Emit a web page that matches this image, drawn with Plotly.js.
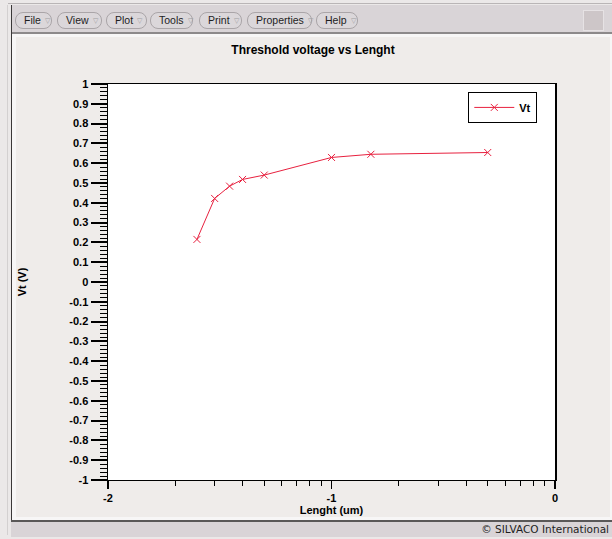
<!DOCTYPE html>
<html>
<head>
<meta charset="utf-8">
<script src="https://cdn.plot.ly/plotly-3.0.1.min.js"></script>
<style>
  html, body { margin: 0; padding: 0; }
  body { width: 612px; height: 539px; position: relative; overflow: hidden;
         background: #ebe8e8; font-family: "DejaVu Sans", sans-serif; }
  .topline { position: absolute; left: 8px; top: 3px; width: 604px; height: 1px; background: #b9b5b6; }
  .toolbar { position: absolute; left: 11px; top: 5px; width: 601px; height: 27px; background: #d9d4d7; }
  .toolbar-edge { position: absolute; left: 11px; top: 32px; width: 601px; height: 2px; background: #8c898a; }
  .leftedge { position: absolute; left: 11px; top: 5px; width: 1px; height: 517px; background: #3a3838; }
  .leftfaint { position: absolute; left: 7px; top: 5px; width: 1px; height: 530px; background: #d3d0d0; }
  .gap { position: absolute; left: 12px; top: 34px; width: 600px; height: 487px; background: #f7f6f6; }
  .btn { position: absolute; top: 12px; height: 17px; box-sizing: border-box;
         border: 1px solid #aaa5a8; border-radius: 8px; background: #dbd7da;
         font-family: "Liberation Sans", Arial, sans-serif; font-size: 10.5px; line-height: 15px;
         color: #1e1e1e; padding-left: 8px; white-space: nowrap; }
  .btn span { color: #a09d9f; font-size: 7px; margin-left: 4px; vertical-align: 1px; }
  .square { position: absolute; left: 583px; top: 10px; width: 21px; height: 21px; box-sizing: border-box;
            background: #cdc6c8; border: 1px solid #e6e2e4; }
  #chart { position: absolute; left: 16px; top: 37px; width: 594px; height: 480px; }
  .bottomedge { position: absolute; left: 11px; top: 520px; width: 601px; height: 2px; background: #5a5858; }
  .status { position: absolute; left: 11px; top: 522px; width: 601px; height: 15px; background: #d9d4d7;
            font-size: 10.5px; line-height: 15px; text-align: right; color: #1e1e1e; }
  .status div { padding-right: 3px; }
</style>
</head>
<body>
<div class="topline"></div>
<div class="toolbar"></div>
<div class="toolbar-edge"></div>
<div class="leftfaint"></div>
<div class="gap"></div>
<div class="leftedge"></div>
<div class="btn" style="left:15px;width:37px;">File<span>▽</span></div>
<div class="btn" style="left:57px;width:45px;">View<span>▽</span></div>
<div class="btn" style="left:106px;width:41px;">Plot<span>▽</span></div>
<div class="btn" style="left:150px;width:43px;">Tools<span>▽</span></div>
<div class="btn" style="left:199px;width:43px;">Print<span>▽</span></div>
<div class="btn" style="left:247px;width:65px;">Properties<span>▽</span></div>
<div class="btn" style="left:316px;width:42px;">Help<span>▽</span></div>
<div class="square"></div>
<div id="chart"></div>
<div class="bottomedge"></div>
<div class="status"><div>© SILVACO International</div></div>

<script>
// Threshold voltage against gate length (um), log-scaled length axis
const lengthUm = [0.025, 0.03, 0.035, 0.04, 0.05, 0.1, 0.15, 0.5];
const vt = [0.215, 0.422, 0.484, 0.518, 0.54, 0.629, 0.645, 0.654];

// Decade labels on the length axis (exponents of 10)
const xTickVals = [0.01, 0.1, 1];
const xTickText = ['-2', '-1', '0'];

// Voltage axis labels
const yTickVals = [-1, -0.9, -0.8, -0.7, -0.6, -0.5, -0.4, -0.3, -0.2, -0.1, 0,
                   0.1, 0.2, 0.3, 0.4, 0.5, 0.6, 0.7, 0.8, 0.9, 1];
const yTickText = ['-1', '-0.9', '-0.8', '-0.7', '-0.6', '-0.5', '-0.4', '-0.3', '-0.2', '-0.1', '0',
                   '0.1', '0.2', '0.3', '0.4', '0.5', '0.6', '0.7', '0.8', '0.9', '1'];

// Minor log ticks: 2..9 within each decade
const xMinor = [];
for (const base of [0.01, 0.1]) {
  for (let k = 2; k <= 9; k++) xMinor.push(base * k);
}

const boldFont = { family: 'Liberation Sans, Arial, sans-serif', size: 11, color: '#000', weight: 'bold' };
const red = '#e8213f';

const trace = {
  x: lengthUm,
  y: vt,
  name: 'Vt',
  type: 'scatter',
  mode: 'lines+markers',
  line: { color: red, width: 1 },
  marker: { symbol: 'x-thin', size: 7, color: red, line: { color: red, width: 1 } }
};

const layout = {
  width: 594,
  height: 480,
  paper_bgcolor: '#efecea',
  plot_bgcolor: '#ffffff',
  margin: { l: 92, r: 55, t: 47, b: 37, pad: 0 },
  font: boldFont,
  title: {
    text: 'Threshold voltage vs Lenght',
    font: { family: 'Liberation Sans, Arial, sans-serif', size: 12, color: '#000', weight: 'bold' },
    x: 0.5, xref: 'container', xanchor: 'center',
    y: 0.973, yref: 'container', yanchor: 'middle'
  },
  xaxis: {
    type: 'log',
    range: [-2, 0],
    tickmode: 'array',
    tickvals: xTickVals,
    ticktext: xTickText,
    ticks: 'outside',
    ticklen: 8,
    tickwidth: 1.5,
    tickcolor: '#000',
    minor: { tickmode: 'array', tickvals: xMinor, ticks: 'outside', ticklen: 5, tickwidth: 1, tickcolor: '#000', showgrid: false },
    showline: true,
    linecolor: '#000',
    linewidth: 1,
    mirror: true,
    showgrid: false,
    zeroline: false,
    automargin: false,
    tickfont: boldFont,
    title: { text: 'Lenght (um)', font: boldFont, standoff: 2 }
  },
  yaxis: {
    range: [-1, 1],
    tickmode: 'array',
    tickvals: yTickVals,
    ticktext: yTickText,
    ticks: 'outside',
    ticklen: 16,
    tickwidth: 2,
    tickcolor: '#000',
    minor: { dtick: 0.02, tick0: 0, ticks: 'outside', ticklen: 7, tickwidth: 1, tickcolor: '#000', showgrid: false },
    showline: true,
    linecolor: '#000',
    linewidth: 1.5,
    mirror: true,
    showgrid: false,
    zeroline: false,
    automargin: false,
    tickfont: boldFont,
    title: { text: 'Vt (V)', font: boldFont, standoff: 52 }
  },
  showlegend: true,
  legend: {
    x: 0.806, y: 0.98, xanchor: 'left', yanchor: 'top',
    bgcolor: '#ffffff', bordercolor: '#000', borderwidth: 1,
    font: boldFont,
    itemwidth: 40
  }
};

Plotly.newPlot('chart', [trace], layout, { displayModeBar: false, staticPlot: true });
</script>
</body>
</html>
